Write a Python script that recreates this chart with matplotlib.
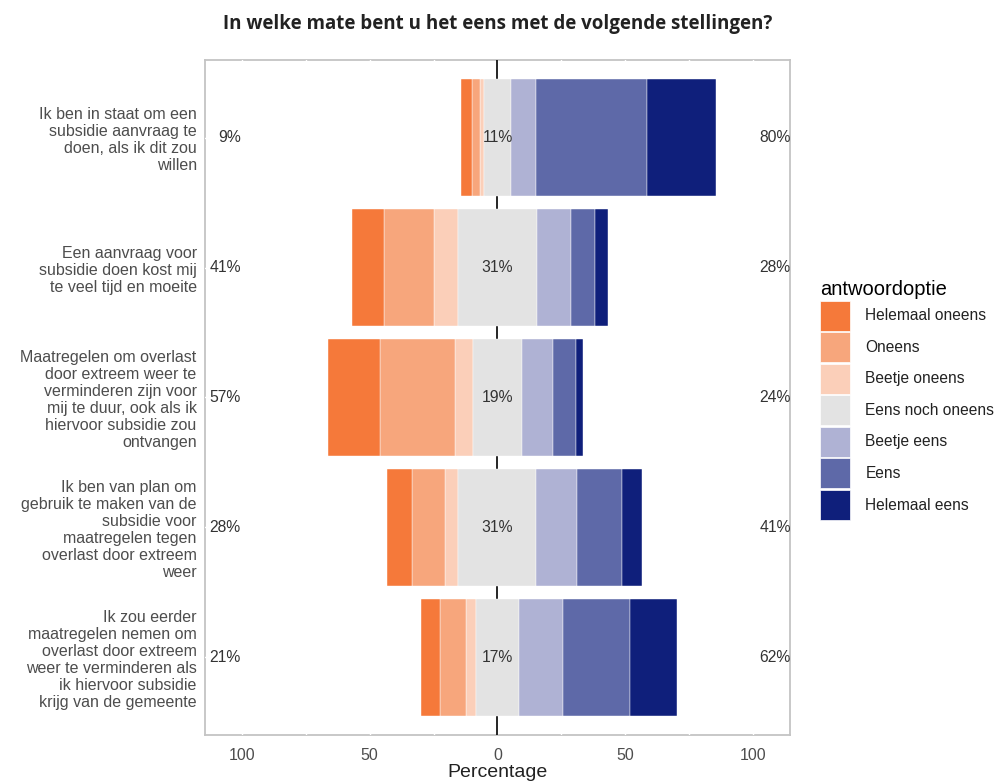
import matplotlib
matplotlib.use("Agg")
import matplotlib.pyplot as plt
from matplotlib.patches import Patch
import numpy as np

plt.rcParams["font.family"] = ["Liberation Sans", "DejaVu Sans"]

statements = [
    "Ik ben in staat om een\nsubsidie aanvraag te\ndoen, als ik dit zou\nwillen",
    "Een aanvraag voor\nsubsidie doen kost mij\nte veel tijd en moeite",
    "Maatregelen om overlast\ndoor extreem weer te\nverminderen zijn voor\nmij te duur, ook als ik\nhiervoor subsidie zou\nontvangen",
    "Ik ben van plan om\ngebruik te maken van de\nsubsidie voor\nmaatregelen tegen\noverlast door extreem\nweer",
    "Ik zou eerder\nmaatregelen nemen om\noverlast door extreem\nweer te verminderen als\nik hiervoor subsidie\nkrijg van de gemeente",
]
options = ["Helemaal oneens", "Oneens", "Beetje oneens", "Eens noch oneens",
           "Beetje eens", "Eens", "Helemaal eens"]
colors = ["#F5793A", "#F7A67C", "#FBCFB9", "#E3E3E3", "#AFB2D4", "#5E69A8", "#0F1F7B"]

# percentages per answer option, one value per statement
helemaal_oneens = [4.3, 12.6, 20.2, 10.1, 7.2]
oneens = [3.3, 19.5, 29.7, 12.7, 10.5]
beetje_oneens = [1.5, 9.3, 6.9, 5.3, 3.6]
neutraal = [10.6, 31.0, 19.1, 30.6, 17.1]
beetje_eens = [9.8, 13.3, 12.3, 15.9, 17.3]
eens = [43.3, 9.5, 9.0, 17.4, 26.0]
helemaal_eens = [27.2, 4.9, 2.8, 8.0, 18.3]

data = np.array([helemaal_oneens, oneens, beetje_oneens, neutraal,
                 beetje_eens, eens, helemaal_eens])

fig = plt.figure(figsize=(10.01, 7.82), dpi=100)
ax = fig.add_axes([0.2048, 0.0601, 0.5842, 0.8632])

n = len(statements)
y = np.arange(n, 0, -1)
h = 0.9
half = data[3] / 2

ax.axvline(0, color="black", lw=1.2, zorder=1)

# left side: outwards from the neutral block
left = -half.copy()
for i in [2, 1, 0]:
    ax.barh(y, -data[i], left=left, height=h, color=colors[i],
            edgecolor="white", lw=0.3, zorder=2)
    left = left - data[i]
ax.barh(y, data[3], left=-half, height=h, color=colors[3],
        edgecolor="white", lw=0.3, zorder=2)
right = half.copy()
for i in [4, 5, 6]:
    ax.barh(y, data[i], left=right, height=h, color=colors[i],
            edgecolor="white", lw=0.3, zorder=2)
    right = right + data[i]

neg = data[:3].sum(axis=0)
pos = data[4:].sum(axis=0)
txt = dict(fontsize=11.3, color="#333333", va="center", zorder=3)
for k in range(n):
    ax.text(-100.5, y[k], f"{round(neg[k])}%", ha="right", **txt)
    ax.text(0, y[k], f"{round(data[3][k])}%", ha="center", **txt)
    ax.text(102.5, y[k], f"{round(pos[k])}%", ha="left", **txt)

ax.set_xlim(-114.5, 114.5)
ax.set_ylim(0.4, n + 0.6)
ax.set_xticks([-100, -50, 0, 50, 100])
ax.set_xticklabels(["100", "50", "0", "50", "100"])
ax.set_xticks([-75, -25, 25, 75], minor=True)
ax.set_yticks(y)
ax.set_yticklabels(statements, linespacing=1.17)
ax.tick_params(axis="both", which="both", length=0, colors="#4d4d4d")
ax.tick_params(axis="x", labelsize=11.5, pad=9)
ax.tick_params(axis="y", labelsize=11.5, pad=6)
ax.set_xlabel("Percentage", fontsize=14, color="#222222", labelpad=1)

for sp in ax.spines.values():
    sp.set_color("#C4C4C4")
    sp.set_linewidth(1.3)
    sp.set_zorder(0.2)
ax.set_axisbelow(True)
ax.grid(True, which="both", color="white", lw=1.0)

fig.suptitle("In welke mate bent u het eens met de volgende stellingen?",
             x=0.497, y=0.982, fontsize=13.5, fontweight="bold",
             fontfamily="Open Sans", color="#222222")

handles = [Patch(facecolor=c, edgecolor="white", lw=0.5) for c in colors]
leg = fig.legend(handles, options, loc="upper left", bbox_to_anchor=(0.819, 0.642),
                 frameon=False, fontsize=11.2, title="antwoordoptie",
                 title_fontsize=14.5, alignment="left", handlelength=1.93,
                 handleheight=2.59, labelspacing=0.1, handletextpad=1.0,
                 borderpad=0, borderaxespad=0)
for t in leg.get_texts():
    t.set_color("#222222")

fig.savefig("out.png", dpi=100)
